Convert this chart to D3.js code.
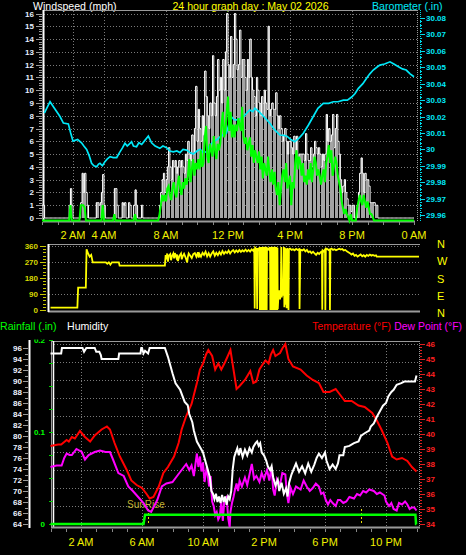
<!DOCTYPE html>
<html><head><meta charset="utf-8">
<script src="https://cdn.jsdelivr.net/npm/d3@7"></script>
<style>
body{margin:0;background:#000;}
svg{display:block;}
text{font-family:"Liberation Sans",Arial,sans-serif;}
</style>
</head><body>
<svg id="c" width="466" height="555"></svg>
<script>
// ---------------- DATA ----------------
// wind gust (mph), 5-minute samples, one row per hour
const windGustRows = [
 [1,1,0,0,0,0,0,0,0,0,0,0],
 [0,0,0,0,0,0,0,0,0,1,2.3,1],
 [0,0,0,0,0,0,1.2,3.5,2,3.5,2,1],
 [0,0,0,0,0,0,1.2,1.2,1,1.2,2,3.4],
 [1,0,0,0,0,0,0,0,2.3,2.3,1,0],
 [0,0,1.2,1,1.2,0,0,1.2,1,0,0,1],
 [2.2,1,0,0,0,1,0,0,0,0,0,0],
 [0,0,0,0,0,0,0,1,2,3,3.5,2],
 [3,4,5.5,4,3,4.5,4,4.5,3.5,4,4.5,4],
 [4.5,4,3.5,5,4.5,6,5,4.5,6.5,5,7,10.3],
 [6,8.5,7,6,8,6.5,11.5,9.5,8,7,9,8],
 [12.7,9,8,9.5,12.4,10,11,9,12.4,10,13,16],
 [12,11,14.2,11,12,16,14,11.6,12,14.7,11,12.4],
 [12.4,11,10,12.4,11,14,11,10,9.5,8,11,10],
 [9,8,9.5,8,10,9,8.5,15,8,8.5,9,8.5],
 [8.5,9.8,8,7,8,7,6,6.5,7,6,5,6],
 [6,5.5,5,6.4,5,6.4,4.5,5,5,5,5,4.5],
 [6.6,5,4.5,4.5,5.5,4,5,6,5.5,5,5.5,5],
 [4,5,4.5,5,8.1,6,7,6,6.5,8.1,5.5,7],
 [8.1,6,5,3,2,2.5,3,2,1.5,1,1,0.5],
 [1,1,0,0,1,2,3.5,4.7,3.5,2,3.5,3],
 [3,2.5,1.2,1.2,1.2,1.2,1,1,0,0,0,0],
 [0,0,0,0,0,0,0,0,0,0,0,0],
 [0,0,0,0,0,0,0,0,0,0,0,0]
];
// average wind speed (mph), 5-minute samples
const windAvgRows = [
 [0,0,0,0,0,0,0,0,0,0,0,0],
 [0,0,0,0,0,0,0,0,0,0,1.2,0],
 [0,0,0,0,0,0,1.2,1.2,1.2,1,0,0],
 [0,0,0,0,0,0,0,0,0,0,0,1.2],
 [0,0,0,0,0,0,0,0,0.5,0,0,0],
 [0,0,0,0,0,0,0,0,0,0,0,0],
 [0.5,0,0,0,0,0,0,0,0,0,0,0],
 [0,0,0,0,0,0,0,0.5,1.2,2,1.5,2],
 [1.5,2.5,2.7,2,1.6,2.5,3,2.2,1.8,2.8,3.5,2.5],
 [2,3,2.5,3.3,2.8,3.5,4.8,3,4,4.8,3.5,4.5],
 [4,4.8,4,5.5,4.2,4.5,6.5,7.4,5,4.5,6,5.5],
 [5,6.6,5.5,4.8,6,5.5,6,7.5,8.5,6.5,7,8.5],
 [9.7,7,8.5,6.5,7.5,6.5,7.5,7,8,7.5,7,8.9],
 [6.5,6,6.5,5.5,6,6.5,5,5.9,4.5,5.5,5,4.5],
 [5.4,4,5,3.3,4.5,4,3.5,5,3.8,3,4,2.8],
 [3.8,2.5,2,3,1.2,2.5,3.5,4,3,4.5,2.5,3],
 [3.5,1.2,3,2.5,4.5,5.5,4,5,4.5,3.5,4.5,3],
 [3.5,2.8,4,3.2,4.5,3,4,5,4.5,3.5,4,3.5],
 [2.8,3.5,4,3,4.5,5,5.9,4.5,5.5,3.5,4.2,5],
 [4.5,3.5,3,2.5,1.5,1,0.5,0.9,0.5,0.3,0,0.5],
 [0,0,0,0,1,1.5,2,1.5,1.2,2,1.5,1],
 [1.5,1,0.5,0.5,0.3,0,0,0,0,0,0,0],
 [0,0,0,0,0,0,0,0,0,0,0,0],
 [0,0,0,0,0,0,0,0,0,0,0,0]
];
// barometer (in) [hour, value]
const baroData = [[0.15,30.022],[0.52,30.029],[0.8,30.025],[1.16,30.020],[1.38,30.016],[1.7,30.0155],[1.85,30.010],[2.0,30.005],[2.3,30.006],[2.55,30.004],[2.7,30.002],[2.88,30.0],[3.05,29.996],[3.2,29.9915],[3.35,29.990],[3.53,29.9894],[3.65,29.991],[3.74,29.9915],[3.9,29.990],[4.06,29.9925],[4.2,29.994],[4.39,29.9955],[4.6,29.995],[4.82,29.995],[5.0,29.998],[5.2,30.001],[5.35,30.0037],[5.5,30.002],[5.78,30.0046],[5.9,30.002],[6.1,30.0016],[6.25,30.004],[6.43,30.003],[6.6,30.005],[6.86,30.0081],[7.07,30.004],[7.3,30.002],[7.6,30.0006],[7.8,30.002],[8.04,30.001],[8.25,29.999],[8.47,29.9985],[8.7,29.999],[8.9,29.998],[9.1,30.0],[9.33,29.9995],[9.55,29.998],[9.76,29.9971],[10.0,29.999],[10.2,30.0],[10.4,29.998],[10.6,29.9985],[10.8,30.002],[11.05,30.0046],[11.3,30.006],[11.5,30.0077],[11.7,30.009],[11.9,30.0098],[12.05,30.015],[12.2,30.020],[12.4,30.018],[12.56,30.0179],[12.8,30.019],[13.0,30.020],[13.2,30.022],[13.4,30.024],[13.6,30.023],[13.74,30.025],[14.0,30.023],[14.3,30.020],[14.5,30.018],[14.7,30.0159],[15.0,30.012],[15.35,30.0087],[15.6,30.0085],[15.8,30.008],[16.05,30.006],[16.3,30.0046],[16.6,30.007],[16.86,30.0098],[17.2,30.015],[17.5,30.020],[17.8,30.025],[18.15,30.028],[18.5,30.028],[18.8,30.029],[19.1,30.029],[19.44,30.030],[19.7,30.030],[20.0,30.032],[20.2,30.034],[20.4,30.037],[20.7,30.040],[20.94,30.0433],[21.15,30.046],[21.37,30.0483],[21.6,30.050],[21.8,30.0513],[22.1,30.052],[22.45,30.0533],[22.7,30.052],[23.0,30.0503],[23.25,30.049],[23.5,30.0483],[23.75,30.046],[24.0,30.0442]];
// wind direction (deg) [hour, value]
const dirData = [[0,13],[1.75,13],[1.8,126],[2.3,126],[2.35,341],[2.45,318],[2.55,300],[2.65,310],[2.75,268],[3.6,268],[3.7,260],[3.8,268],[3.9,255],[4.0,268],[4.45,268],[4.5,250],[7.45,250],
[7.5,309],[7.55,285],[7.6,318],[7.65,272],[7.7,305],[7.8,315],[7.85,280],[7.9,300],[8.0,318],[8.05,290],[8.1,320],[8.2,295],[8.25,312],[8.3,275],[8.4,305],[8.5,318],[8.55,285],[8.6,300],[8.7,316],[8.8,295],[8.9,268],[8.95,300],[9.0,318],[9.1,305],[9.2,292],[9.3,315],[9.4,320],[9.5,300],[9.6,325],[9.65,295],[9.7,315],[9.8,300],[9.9,322],[10.0,310],[10.1,328],[10.2,302],[10.3,320],[10.4,300],[10.5,318],[10.6,330],[10.7,305],[10.8,322],[10.9,308],[11.0,326],[11.1,312],[11.2,332],[11.3,316],[11.4,328],[11.5,320],[11.6,334],[11.7,318],[11.8,330],[11.9,337],[12.0,324],[12.1,335],[12.2,326],[12.3,338],[12.4,327],[12.5,336],[12.6,329],[12.7,340],[12.8,330],[12.9,338],[13.0,329],[13.1,341],[13.2,333],
[13.27,345],[13.3,8],[13.33,350],[13.42,342],[13.46,5],[13.5,348],[13.55,340],
[13.62,352],[13.64,0],[13.66,355],[13.68,0],[13.70,352],[13.72,0],[13.74,355],[13.76,2],[13.78,350],[13.80,0],[13.82,355],[13.84,0],[13.86,352],[13.88,0],[13.90,356],[13.92,0],[13.94,350],[13.96,0],[13.98,355],[14.00,0],[14.02,352],[14.04,0],[14.06,356],[14.08,0],[14.10,350],
[14.15,340],[14.2,345],[14.25,338],
[14.30,355],[14.32,0],[14.34,352],[14.36,0],[14.38,355],[14.40,5],[14.42,350],[14.44,0],[14.46,356],[14.48,0],[14.50,350],[14.52,0],[14.54,355],[14.56,0],[14.58,352],[14.60,0],[14.62,356],[14.64,0],[14.66,350],[14.68,0],[14.70,355],[14.72,0],[14.74,352],[14.76,0],[14.78,350],[14.80,5],
[14.85,90],[14.9,110],[14.95,60],[15.0,100],[15.03,355],[15.06,70],[15.1,120],[15.15,80],
[15.2,355],[15.23,15],[15.27,350],[15.3,30],[15.33,345],[15.38,10],[15.42,348],[15.5,0],[15.53,342],
[15.6,345],[15.7,338],[15.8,342],[15.9,336],[16.0,344],[16.1,338],[16.2,342],[16.22,5],[16.27,340],[16.4,335],[16.5,342],[16.6,330],[16.7,338],[16.8,325],[16.9,330],[17.0,320],[17.1,328],[17.2,318],[17.3,310],[17.4,322],[17.5,315],[17.6,325],[17.68,330],[17.7,2],[17.73,335],[17.8,330],[17.88,340],[17.9,0],[17.93,338],[18.0,345],[18.1,338],[18.18,340],[18.2,0],[18.23,342],[18.3,345],[18.4,338],[18.5,342],[18.6,336],[18.7,340],[18.8,345],[18.9,340],[19.0,343],[19.1,335],[19.2,338],[19.3,330],[19.4,325],[19.5,320],[19.6,312],[19.7,318],[19.8,305],[19.9,310],[20.0,300],[20.1,306],[20.2,312],[20.3,302],[20.4,308],[20.5,300],[20.6,310],[20.7,304],[20.8,312],[20.9,306],[21.0,310],[21.1,305],[21.2,308],[21.25,300],[24,300]];
// humidity (%) [hour, value]
const humData = [[0,95],[0.7,95],[0.75,96],[2.1,96],[2.2,95.3],[2.35,96],[2.9,96],[3.0,95.3],[3.2,95.3],[3.3,94.7],[3.35,94],[4.45,94],[4.5,95],[5.9,95],[5.95,96],[6.0,96],[6.1,95],[6.2,95.5],[6.4,95],[6.5,96],[7.5,96],[7.7,94.4],[8.0,91.4],[8.2,89.6],[8.5,88.4],[8.8,86.2],[9.0,85.6],[9.1,84],[9.3,82.5],[9.4,81],[9.6,79],[9.8,78],[10.0,77],[10.1,76],[10.2,75],[10.35,73.5],[10.45,72.5],[10.55,70],[10.65,69.5],[10.75,68.5],[10.85,69.5],[10.95,68],[11.05,69],[11.15,67.8],[11.25,69.3],[11.35,68],[11.45,69],[11.55,67.5],[11.65,69],[11.75,68.5],[11.85,70],[11.95,74],[12.05,76.2],[12.15,77],[12.25,77.8],[12.35,76.5],[12.45,77.8],[12.6,76.2],[12.75,77.5],[12.9,76.5],[13.05,77.8],[13.2,77],[13.3,78],[13.45,78.7],[13.55,79],[13.65,78.2],[13.75,78.7],[13.85,77],[14.0,76.5],[14.15,75.5],[14.25,74.5],[14.4,73.8],[14.5,74.5],[14.6,72.5],[14.75,71],[14.9,72],[15.0,70],[15.15,71.5],[15.3,69.5],[15.45,70.5],[15.55,69],[15.65,71.5],[15.8,73],[15.95,74],[16.1,75],[16.3,73.5],[16.5,74.5],[16.7,73.2],[16.9,75],[17.1,73.5],[17.3,74.8],[17.45,76],[17.6,76.8],[17.8,76],[18.0,77],[18.1,75.5],[18.3,74],[18.5,74.8],[18.7,74],[18.85,75],[18.95,76.5],[19.2,76.5],[19.3,78],[19.6,78.2],[19.9,78.7],[20.2,79],[20.35,80],[20.6,80.5],[20.9,81],[21.0,81.7],[21.2,82.3],[21.4,83.5],[21.6,84.5],[21.8,85.5],[22.0,86],[22.15,87.2],[22.35,88],[22.5,88.4],[22.7,89.3],[23.0,89.6],[23.2,89.9],[23.9,89.9],[24,91]];
// temperature (F) [hour, value]
const tempData = [[0,39.2],[0.5,39.3],[0.7,39.3],[1.06,39.6],[1.2,39.5],[1.4,39.8],[1.6,39.7],[1.93,40.2],[2.26,39.8],[2.6,39.5],[2.9,39.9],[3.35,40.3],[3.7,40.5],[3.9,40.3],[4.2,39.4],[4.55,38.5],[5.0,37.6],[5.3,36.9],[5.65,36.6],[6.0,36.4],[6.3,36.0],[6.5,35.7],[6.75,35.8],[7.1,36.5],[7.4,37.4],[7.7,37.8],[8.1,38.5],[8.4,39.4],[8.6,40.3],[8.9,41.2],[9.25,42.0],[9.6,43.4],[9.8,44.3],[10.0,44.7],[10.2,45.3],[10.35,45.6],[10.6,45.2],[10.8,44.3],[11.0,44.7],[11.2,44.3],[11.45,44.8],[11.8,45.6],[12.0,44.3],[12.2,43.0],[12.4,43.2],[12.75,43.6],[13.1,44.2],[13.3,43.4],[13.5,43.5],[13.7,44.3],[13.95,44.7],[14.1,44.9],[14.3,44.7],[14.45,45.3],[14.6,45.6],[14.75,45.2],[14.9,45.3],[15.05,45.4],[15.2,45.7],[15.4,46.0],[15.6,45.0],[15.9,44.5],[16.4,44.3],[16.8,43.9],[17.2,43.6],[17.6,43.4],[17.9,42.8],[18.3,42.8],[18.7,43.0],[19.0,42.6],[19.3,42.2],[19.75,42.2],[20.2,41.9],[20.6,41.8],[21.1,41.4],[21.4,40.9],[21.7,40.3],[22.1,39.4],[22.4,38.5],[22.7,38.3],[23.05,38.4],[23.4,38.2],[23.7,37.8],[24,37.5]];
// dew point (F) [hour, value]
const dewData = [[0,37.8],[0.4,37.9],[0.73,37.9],[0.9,38.4],[1.06,38.7],[1.25,38.6],[1.4,38.6],[1.7,39.0],[2.05,38.8],[2.26,38.3],[2.5,38.6],[2.9,38.8],[3.25,38.9],[3.6,38.8],[3.9,38.8],[4.1,38.3],[4.45,37.4],[4.8,37.2],[5.1,36.5],[5.4,36.2],[5.75,35.8],[6.1,35.4],[6.4,34.9],[6.6,34.8],[7.0,35.6],[7.3,36.5],[7.6,36.7],[8.0,36.8],[8.3,37.2],[8.6,37.6],[8.9,38.0],[9.1,37.6],[9.25,37.9],[9.4,37.2],[9.6,38.7],[9.7,37.8],[9.8,38.5],[9.9,37.5],[10.0,38.1],[10.1,36.8],[10.25,37.8],[10.4,36.5],[10.5,37.2],[10.6,35.5],[10.7,35.2],[10.8,34.6],[10.9,34.8],[11.0,34.3],[11.1,34.5],[11.2,35.5],[11.3,34.2],[11.4,35.6],[11.55,35.8],[11.65,34.4],[11.75,33.8],[11.8,34.8],[11.9,35.4],[12.0,35.8],[12.1,36.3],[12.2,36.7],[12.3,36.2],[12.4,36.9],[12.55,36.5],[12.75,37.1],[12.9,36.6],[13.05,37.3],[13.2,38.0],[13.35,37.0],[13.5,37.2],[13.7,36.8],[13.85,37.4],[14.0,37.0],[14.2,37.6],[14.35,36.9],[14.5,37.8],[14.6,36.3],[14.7,35.9],[14.85,37.0],[15.05,36.6],[15.2,37.4],[15.4,37.3],[15.5,36.0],[15.6,35.4],[15.75,36.4],[15.9,36.0],[16.1,36.5],[16.4,36.3],[16.6,36.9],[16.8,36.5],[17.0,36.2],[17.2,36.4],[17.4,36.7],[17.6,36.5],[17.75,36.0],[17.9,36.1],[18.05,35.6],[18.2,35.3],[18.35,35.6],[18.5,35.4],[18.7,35.2],[18.85,35.6],[19.0,35.6],[19.2,35.4],[19.4,35.5],[19.6,35.8],[19.9,35.7],[20.1,36.0],[20.3,35.9],[20.5,36.2],[20.7,36.1],[20.9,36.3],[21.2,36.2],[21.4,36.0],[21.6,36.1],[21.9,35.9],[22.0,35.5],[22.2,35.2],[22.35,35.4],[22.5,35.0],[22.7,34.9],[22.85,35.4],[23.05,35.3],[23.25,35.5],[23.4,35.3],[23.55,35.0],[23.7,35.1],[23.85,35.1],[24,34.9]];
// rainfall (in) [hour, value]
const rainData = [[0,0],[6.1,0],[6.2,0.01],[23.93,0.01],[23.97,0],[24,0]];
// sun events (hour)
const sunEvents = [6.39, 20.36];

// tick labels
const topHourTicks = [2,4,8,12,16,20,24];
const topHourLabels = ["2 AM","4 AM","8 AM","12 PM","4 PM","8 PM","0 AM"];
const botHourTicks = [2,6,10,14,18,22];
const botHourLabels = ["2 AM","6 AM","10 AM","2 PM","6 PM","10 PM"];
const windTicks = [0,1,2,3,4,5,6,7,8,9,10,11,12,13,14,15,16];
const baroTicks = [29.96,29.97,29.98,29.99,30.00,30.01,30.02,30.03,30.04,30.05,30.06,30.07,30.08];
const dirTicks = [0,90,180,270,360];
const compassLabels = ["N","E","S","W","N"];
const humTicks = [64,66,68,70,72,74,76,78,80,82,84,86,88,90,92,94,96];
const rainTicks = [0,0.1,0.2];
const tempTicks = [34,35,36,37,38,39,40,41,42,43,44,45,46];

// ---------------- DRAWING ----------------
const svg = d3.select("#c");
svg.append("rect").attr("width",466).attr("height",555).attr("fill","#000");
const GRID = "#7a7a7a", FRAME = "#9a9a9a";

function seg(g,x1,y1,x2,y2,color,w,dash){
  const l = g.append("line").attr("x1",x1).attr("y1",y1).attr("x2",x2).attr("y2",y2)
    .attr("stroke",color).attr("stroke-width",w||1);
  if(dash) l.attr("stroke-dasharray",dash);
  return l;
}
function label(g,x,y,s,color,size,anchor,weight){
  return g.append("text").attr("x",x).attr("y",y).text(s).attr("fill",color)
    .attr("font-size",size).attr("text-anchor",anchor||"start")
    .attr("font-weight",weight||"normal");
}

// ===== TOP PANEL =====
const topG = svg.append("g");
const tx = d3.scaleLinear().domain([0,24]).range([42,414]);
const wy = d3.scaleLinear().domain([0,16]).range([218,13.5]);
const by = d3.scaleLinear().domain([29.96,30.08]).range([215,18]);

label(topG,33,9.5,"Windspeed (mph)","#ffffff","10.6px");
label(topG,250.5,9.5,"24 hour graph day : May 02 2026","#ffff00","10.6px","middle");
label(topG,372,9.5,"Barometer (.in)","#00e8f8","10.6px");

windTicks.filter(t=>t>0).forEach(t=>seg(topG,44,Math.round(wy(t))+0.5,417,Math.round(wy(t))+0.5,GRID,1,"1,2"));
topHourTicks.filter(h=>h<24).forEach(h=>seg(topG,Math.round(tx(h))+0.5,11,Math.round(tx(h))+0.5,220,GRID,1,"1,2"));
seg(topG,43,10.5,417,10.5,FRAME,1);
seg(topG,417.5,10,417.5,221,FRAME,1,"1,1");
d3.range(0,16.01,0.2).forEach(v=>{
  const major = Math.abs(v-Math.round(v))<1e-6;
  const y = Math.round(wy(v))+0.5;
  seg(topG, major?36:39, y, 42, y, "#9a9a9a",1);
});
windTicks.forEach(t=>label(topG,34,wy(t)+3,String(t),"#e6eeff","8px","end","bold"));
seg(topG,43.5,10,43.5,221,"#ffffff",2);
seg(topG,43,221.5,415,221.5,FRAME,2);
d3.range(0,25).forEach(h=>seg(topG,Math.round(tx(h))+0.5,222,Math.round(tx(h))+0.5,225,"#888",1));
topHourTicks.forEach((h,i)=>label(topG,tx(h),238.5,topHourLabels[i],"#f0f000","11px","middle"));
seg(topG,420.5,10,420.5,221,"#00d8e8",1,"1,1");
d3.range(0,61).forEach(k=>{
  const v = 29.96 + k*0.002;
  const y = Math.round(by(v))+0.5;
  seg(topG,420,y,k%5===0?425:422,y,"#00d8e8",1);
});
baroTicks.forEach(v=>label(topG,426,by(v)+3,String(+v.toFixed(2)),"#00e8f8","8px","start","bold"));

const gust = windGustRows.flat().map((v,i)=>[i/12,v]); gust.push([24,0]);
const avg = windAvgRows.flat().map((v,i)=>[i/12,v]); avg.push([24,0]);
// gust bars (one per sample, pixel-snapped)
topG.append("g").selectAll("line").data(gust.filter(d=>d[1]>0)).join("line")
  .attr("x1",d=>Math.floor(tx(d[0]))+0.5).attr("x2",d=>Math.floor(tx(d[0]))+0.5)
  .attr("y1",wy(0)).attr("y2",d=>wy(d[1]))
  .attr("stroke","#a4a4a4").attr("stroke-width",1);
topG.append("path").datum(gust)
  .attr("d",d3.line().curve(d3.curveStepAfter).x(d=>tx(d[0])).y(d=>wy(d[1])))
  .attr("fill","none").attr("stroke","#ffffff").attr("stroke-width",1);
topG.append("path").datum(baroData)
  .attr("d",d3.line().x(d=>tx(d[0])).y(d=>by(d[1])))
  .attr("fill","none").attr("stroke","#00e8f8").attr("stroke-width",1.7);
topG.append("path").datum(avg)
  .attr("d",d3.line().x(d=>tx(d[0])).y(d=>wy(d[1])))
  .attr("transform","translate(0,2.5)")
  .attr("fill","none").attr("stroke","#00ff00").attr("stroke-width",2);

// ===== MIDDLE PANEL =====
const midG = svg.append("g");
const mx = d3.scaleLinear().domain([0,24]).range([50.5,419]);
const dyS = d3.scaleLinear().domain([0,360]).range([310,246]);
dirTicks.filter(t=>t>0).forEach(t=>seg(midG,49,Math.round(dyS(t))+0.5,420,Math.round(dyS(t))+0.5,GRID,1,"1,2"));
seg(midG,48,244.5,420,244.5,FRAME,1);
seg(midG,48,311.5,420,311.5,FRAME,2);
seg(midG,48.5,244,48.5,312,"#ffffff",2);
d3.range(0,361,18).forEach(v=>{
  const y = Math.round(dyS(v))+0.5;
  seg(midG, v%90===0?40:43, y, 46, y, "#c8c800",1);
});
dirTicks.forEach(t=>label(midG,38,dyS(t)+3,String(t),"#d8d800","8px","end","bold"));
const compY = d3.scaleLinear().domain([0,360]).range([313,244]);
dirTicks.forEach((t,i)=>label(midG,437,compY(t)+4,compassLabels[i],"#ffff00","11px"));
midG.append("path").datum(dirData)
  .attr("d",d3.line().x(d=>mx(d[0])).y(d=>dyS(d[1])))
  .attr("fill","none").attr("stroke","#ffff00").attr("stroke-width",1.8);

// ===== BOTTOM PANEL =====
const botG = svg.append("g");
const bx = d3.scaleLinear().domain([0,24]).range([50.5,416.5]);
const hy = d3.scaleLinear().domain([64,96]).range([524,348]);
const ty = d3.scaleLinear().domain([34,46]).range([524,344]);
const ry = d3.scaleLinear().domain([0,0.2]).range([524,340]);

label(botG,0,330,"Rainfall (.in)","#00ff00","10.6px");
label(botG,67,330,"Humidity","#ffffff","10.6px");
label(botG,391,330,"Temperature (°F)","#ff0000","10.4px","end");
label(botG,462,330,"Dew Point (°F)","#ff00ff","10.4px","end");

d3.range(1,11).map(k=>34+1.2*k).forEach(v=>seg(botG,54,Math.round(ty(v))+0.5,419,Math.round(ty(v))+0.5,GRID,1,"1,2"));
botHourTicks.forEach(h=>seg(botG,Math.round(bx(h))+0.5,342,Math.round(bx(h))+0.5,526,GRID,1,"1,2"));
seg(botG,51,341.5,420,341.5,FRAME,1);
seg(botG,51.5,341,51.5,528,FRAME,1);
seg(botG,53.5,341,53.5,527,"#ffffff",1.5);
seg(botG,419.5,341,419.5,527,FRAME,1,"1,1");
seg(botG,51,527.5,420,527.5,FRAME,2);
seg(botG,29.5,340,29.5,528,"#ffffff",2);
d3.range(64,96.01,1).forEach(v=>{
  const y = Math.round(hy(v))+0.5;
  seg(botG, v%2===0?23:25, y, 28, y, "#9a9a9a",1);
});
humTicks.forEach(v=>label(botG,22,hy(v)+3,String(v),"#eef2ff","8px","end","bold"));
d3.range(0,0.2001,0.025).forEach(v=>{
  const y = Math.round(ry(v))+0.5;
  seg(botG,49,y,53,y,"#00c800",1);
});
const clip = svg.append("clipPath").attr("id","rclip");
clip.append("rect").attr("x",0).attr("y",339.5).attr("width",60).attr("height",200);
const rainLabels = botG.append("g").attr("clip-path","url(#rclip)");
rainTicks.forEach(v=>label(rainLabels,45,ry(v)+3,String(v),"#00ff00","8px","end","bold"));
d3.range(0,61).forEach(k=>{
  const v = 34 + k*0.2;
  const y = Math.round(ty(v))+0.5;
  seg(botG,420,y,k%5===0?425:422,y,"#e02020",1);
});
tempTicks.forEach(v=>label(botG,426,ty(v)+3,String(v),"#ff2020","8px","start","bold"));
d3.range(0,25).forEach(h=>seg(botG,Math.round(bx(h))+0.5,529,Math.round(bx(h))+0.5,532,"#888",1));
botHourTicks.forEach((h,i)=>label(botG,bx(h),546,botHourLabels[i],"#f0f000","11px","middle"));
sunEvents.forEach(h=>seg(botG,Math.round(bx(h))+0.5,509,Math.round(bx(h))+0.5,525,"#e8e000",1,"2,2"));
label(botG,bx(sunEvents[0])-2,508,"SunRise","#c0b030","10px","middle");

const L = (sc)=>d3.line().x(d=>bx(d[0])).y(d=>sc(d[1]));
botG.append("path").datum(tempData).attr("d",L(ty)).attr("fill","none").attr("stroke","#ff0000").attr("stroke-width",2);
botG.append("path").datum(dewData).attr("d",L(ty)).attr("fill","none").attr("stroke","#ff00ff").attr("stroke-width",2);
botG.append("path").datum(humData).attr("d",L(hy)).attr("fill","none").attr("stroke","#ffffff").attr("stroke-width",2);
botG.append("path").datum(rainData).attr("d",L(ry)).attr("fill","none").attr("stroke","#00ff00").attr("stroke-width",2.5);
</script>
</body></html>
